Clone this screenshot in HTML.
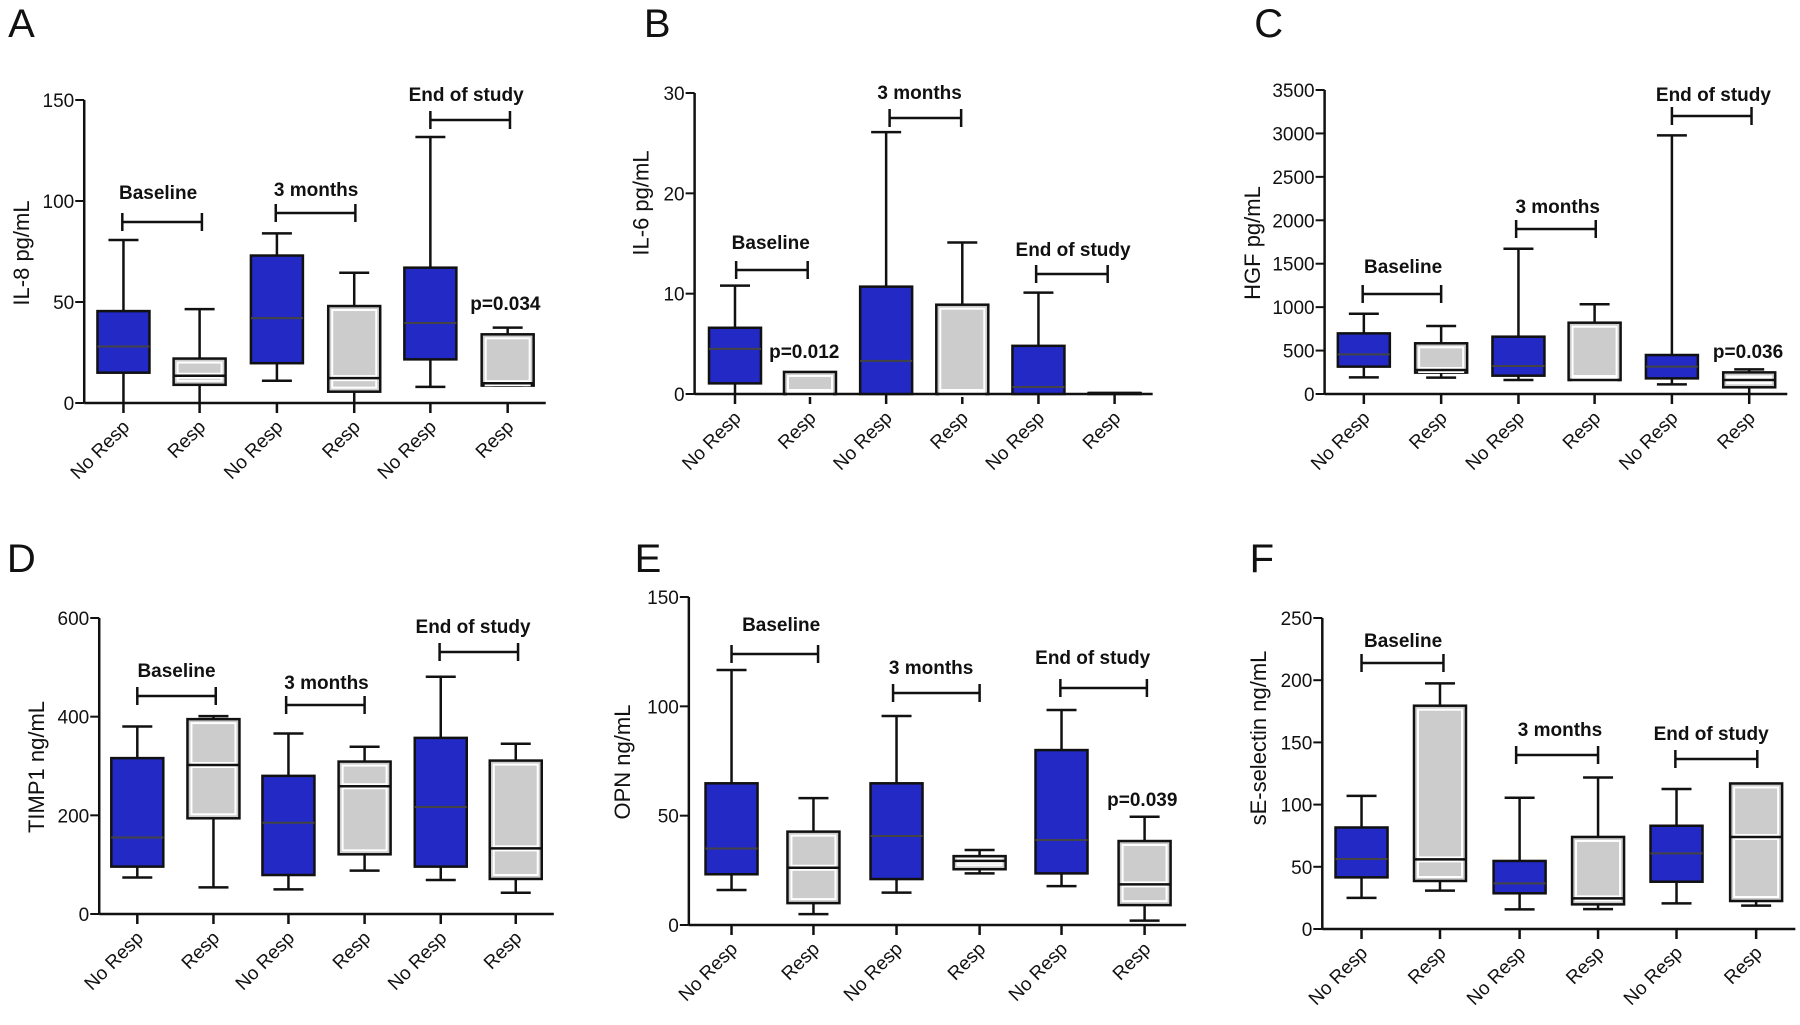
<!DOCTYPE html>
<html><head><meta charset="utf-8">
<style>
html,body{margin:0;padding:0;background:#fff;}
svg{display:block;font-family:"Liberation Sans",Arial,sans-serif;}
</style></head>
<body>
<svg id="fig" width="1800" height="1025" viewBox="0 0 1800 1025" xmlns="http://www.w3.org/2000/svg"></svg>
<script>
// ---- shared categories ----
const categories = ["No Resp","Resp","No Resp","Resp","No Resp","Resp"];
// ---- Panel A: IL-8 ----
const aHi  = [80.7, 46.5, 84, 64.5, 131.7, 37.3];
const aQ3  = [45.5, 22, 73, 48, 67, 34];
const aMed = [28, 13.5, 42, 12.3, 39.6, 9.8];
const aQ1  = [15, 9, 19.7, 5.6, 21.6, 8.6];
const aLo  = [0, 0, 11, 0, 8, 8.6];
const aTicks = [0, 50, 100, 150];
// ---- Panel B: IL-6 ----
const bHi  = [10.8, 2.2, 26.1, 15.1, 10.1, 0.1];
const bQ3  = [6.6, 2.2, 10.7, 8.9, 4.8, 0.1];
const bMed = [4.5, 0, 3.3, 0, 0.7, 0.1];
const bQ1  = [1.06, 0, 0, 0, 0, 0.05];
const bLo  = [0, 0, 0, 0, 0, 0.05];
const bTicks = [0, 10, 20, 30];
// ---- Panel C: HGF ----
const cHi  = [924, 783, 1673, 1033, 2978, 284];
const cQ3  = [698, 584, 660, 821, 449, 249];
const cMed = [456, 276, 322, 161, 315, 161];
const cQ1  = [315, 246, 211, 161, 180, 77];
const cLo  = [192, 188, 161, 161, 111, 0];
const cTicks = [0, 500, 1000, 1500, 2000, 2500, 3000, 3500];
// ---- Panel D: TIMP1 ----
const dHi  = [380, 401, 366, 339, 481, 345];
const dQ3  = [316, 395, 280, 309, 357, 311];
const dMed = [155, 302, 185, 259, 217, 133];
const dQ1  = [96, 194, 79, 121, 96, 71];
const dLo  = [74, 54, 50, 88, 69, 43];
const dTicks = [0, 200, 400, 600];
// ---- Panel E: OPN ----
const eHi  = [116.6, 58, 95.6, 34.3, 98.3, 49.5];
const eQ3  = [64.8, 42.7, 64.8, 31.5, 80, 38.4];
const eMed = [35, 26.2, 40.7, 29.3, 38.9, 18.6];
const eQ1  = [23.2, 10, 21, 25.5, 23.6, 9.1];
const eLo  = [16, 5, 14.8, 23.6, 17.8, 2];
const eTicks = [0, 50, 100, 150];
// ---- Panel F: sE-selectin ----
const fHi  = [107, 197.4, 105.5, 121.8, 112.5, 117];
const fQ3  = [81.6, 179.5, 54.7, 74, 83, 117];
const fMed = [56.3, 56, 36.7, 24.6, 60.8, 74];
const fQ1  = [41.5, 38.6, 28.7, 19.8, 38, 22.5];
const fLo  = [25, 30.8, 15.8, 16, 20.6, 18.8];
const fTicks = [0, 50, 100, 150, 200, 250];

const NS = "http://www.w3.org/2000/svg";
const svg = document.getElementById("fig");
function mk(tag, attrs, parent){
  const e = document.createElementNS(NS, tag);
  for (const k in attrs) e.setAttribute(k, attrs[k]);
  (parent||svg).appendChild(e);
  return e;
}
const KX = 1.1538;

const panels = [
 {id:"a", off:0, letter:"A", lx:7,  ly:37, x0:73, x1:473, y0:403, y1:100, max:150, ticks:aTicks, ylabel:"IL-8 pg/mL", ylx:20, yly:253,
  cx:[107,173,240,307,373,440], hi:aHi,q3:aQ3,med:aMed,q1:aQ1,lo:aLo,
  groups:[["Baseline",137,199,106,175,222],["3 months",274,196,239,308,213],["End of study",404,101,373,442,120]], p:["p=0.034",438,310]},
 {id:"b", off:600, letter:"B", lx:638, ly:37, x0:682, x1:1079, y0:394, y1:93, max:30, ticks:bTicks, ylabel:"IL-6   pg/mL", ylx:637, yly:203,
  cx:[717,782,848,914,980,1046], hi:bHi,q3:bQ3,med:bMed,q1:bQ1,lo:bLo,
  groups:[["Baseline",748,249,718,780,270],["3 months",877,99,851,913,118],["End of study",1010,256,978,1040,274]], p:["p=0.012",777,358]},
 {id:"c", off:1200, letter:"C", lx:1247, ly:37, x0:1308, x1:1709, y0:394, y1:90, max:3500, ticks:cTicks, ylabel:"HGF pg/mL", ylx:1247, yly:243,
  cx:[1342,1409,1476,1542,1609,1676], hi:cHi,q3:cQ3,med:cMed,q1:cQ1,lo:cLo,
  groups:[["Baseline",1376,273,1341,1409,294],["3 months",1510,213,1474,1543,229],["End of study",1645,101,1609,1678,116]], p:["p=0.036",1675,358]},
 {id:"d", off:0, letter:"D", lx:6, ly:572, x0:86, x1:480, y0:914, y1:618, max:600, ticks:dTicks, ylabel:"TIMP1 ng/mL", ylx:33, yly:767,
  cx:[119,185,250,316,382,447], hi:dHi,q3:dQ3,med:dMed,q1:dQ1,lo:dLo,
  groups:[["Baseline",153,677,119,187,696],["3 months",283,689,248,316,705],["End of study",410,633,381,449,652]], p:null},
 {id:"e", off:600, letter:"E", lx:630, ly:572, x0:677, x1:1108, y0:925, y1:597, max:150, ticks:eTicks, ylabel:"OPN ng/mL", ylx:621, yly:762,
  cx:[714,785,857,929,1000,1072], hi:eHi,q3:eQ3,med:eMed,q1:eQ1,lo:eLo,
  groups:[["Baseline",757,631,714,789,654],["3 months",887,674,854,929,693],["End of study",1027,664,999,1074,688]], p:["p=0.039",1070,806]},
 {id:"f", off:1200, letter:"F", lx:1243, ly:572, x0:1306, x1:1716, y0:929, y1:618, max:250, ticks:fTicks, ylabel:"sE-selectin  ng/mL", ylx:1252, yly:738,
  cx:[1340,1408,1477,1545,1613,1682], hi:fHi,q3:fQ3,med:fMed,q1:fQ1,lo:fLo,
  groups:[["Baseline",1376,647,1340,1411,663],["3 months",1512,736,1474,1545,755],["End of study",1643,740,1612,1683,759]], p:null}
];

const BLUE = "#2229c4", GRAY = "#cccccc";
panels.forEach(P => {
  const X = v => P.off + (v - P.off) * KX;
  const g = mk("g", {});
  
  
  const ys = v => P.y0 - (v / P.max) * (P.y0 - P.y1);
  const x0 = X(P.x0), x1 = X(P.x1);

  const L = mk("text", {x:X(P.lx), y:P.ly, "font-size":40, fill:"#111"}, g);
  L.textContent = P.letter;
  
  

  const ya = mk("line", {x1:x0, y1:P.y1, x2:x0, y2:P.y0, stroke:"#111", "stroke-width":2.5}, g);
  
  
  const xa = mk("line", {x1:x0, y1:P.y0, x2:x1, y2:P.y0, stroke:"#111", "stroke-width":2.5}, g);
  
  

  P.ticks.forEach(t => {
    const y = ys(t);
    mk("line", {x1:x0-9, y1:y, x2:x0, y2:y, stroke:"#111", "stroke-width":2}, g);
    const tl = mk("text", {x:x0-10, y:y+7, "font-size":19, "text-anchor":"end", fill:"#111"}, g);
    tl.textContent = t;
    
    
  });

  const ylx = X(P.ylx);
  const yl = mk("text", {x:ylx, y:P.yly, "font-size":22, "text-anchor":"middle", fill:"#111",
    transform:`rotate(-90 ${ylx} ${P.yly})`, "dominant-baseline":"middle", "xml:space":"preserve"}, g);
  yl.textContent = P.ylabel;
  
  

  categories.forEach((c, i) => {
    const cx = X(P.cx[i]);
    const isResp = i % 2 === 1;
    const bw = 26, cap = 15;
    const bg = mk("g", {}, g);
    
    
    mk("line", {x1:cx, y1:P.y0, x2:cx, y2:P.y0+10, stroke:"#111", "stroke-width":2.5}, bg);
    mk("line", {x1:cx, y1:ys(P.hi[i]), x2:cx, y2:ys(P.q3[i]), stroke:"#111", "stroke-width":2.5}, bg);
    mk("line", {x1:cx, y1:ys(P.q1[i]), x2:cx, y2:ys(P.lo[i]), stroke:"#111", "stroke-width":2.5}, bg);
    if (P.lo[i] > 0) mk("line", {x1:cx-cap, y1:ys(P.lo[i]), x2:cx+cap, y2:ys(P.lo[i]), stroke:"#111", "stroke-width":2.5}, bg);
    if (P.hi[i] > P.q3[i]) mk("line", {x1:cx-cap, y1:ys(P.hi[i]), x2:cx+cap, y2:ys(P.hi[i]), stroke:"#111", "stroke-width":2.5}, bg);
    const top = ys(P.q3[i]), bot = ys(P.q1[i]);
    const h = Math.max(bot - top, 1);
    mk("rect", {x:cx-bw, y:top, width:bw*2, height:h, fill:isResp?GRAY:BLUE, stroke:"#111", "stroke-width":2.5}, bg);
    if (isResp && h > 8) mk("rect", {x:cx-bw+4, y:top+4, width:bw*2-8, height:h-8, fill:"none", stroke:"#fff", "stroke-width":2}, bg);
    const my = ys(P.med[i]);
    if (isResp) {
      if (h > 8) mk("line", {x1:cx-bw+3, y1:my, x2:cx+bw-3, y2:my, stroke:"#fff", "stroke-width":6}, bg);
      mk("line", {x1:cx-bw, y1:my, x2:cx+bw, y2:my, stroke:"#111", "stroke-width":2.5}, bg);
    } else {
      mk("line", {x1:cx-bw, y1:my, x2:cx+bw, y2:my, stroke:"#444", "stroke-width":2}, bg);
    }
    const cl = mk("text", {x:cx+7, y:P.y0+25, "font-size":19, "text-anchor":"end", fill:"#111",
      transform:`rotate(-45 ${cx+7} ${P.y0+25})`}, g);
    cl.textContent = c;
    
    
  });

  P.groups.forEach(gr => {
    const [txt, tx, ty, bx1, bx2, by] = gr;
    const t = mk("text", {x:X(tx), y:ty, "font-size":19, "font-weight":"bold", "text-anchor":"middle", fill:"#111"}, g);
    t.textContent = txt;
    
    
    const a = X(bx1), b = X(bx2);
    const br = mk("path", {d:`M${a} ${by-9}V${by+9}M${a} ${by}H${b}M${b} ${by-9}V${by+9}`, stroke:"#111", "stroke-width":2.5, fill:"none"}, g);
    
    
  });

  if (P.p) {
    const pt = mk("text", {x:X(P.p[1]), y:P.p[2], "font-size":19, "font-weight":"bold", "text-anchor":"middle", fill:"#111"}, g);
    pt.textContent = P.p[0];
    
    
  }
});
</script>
</body></html>
